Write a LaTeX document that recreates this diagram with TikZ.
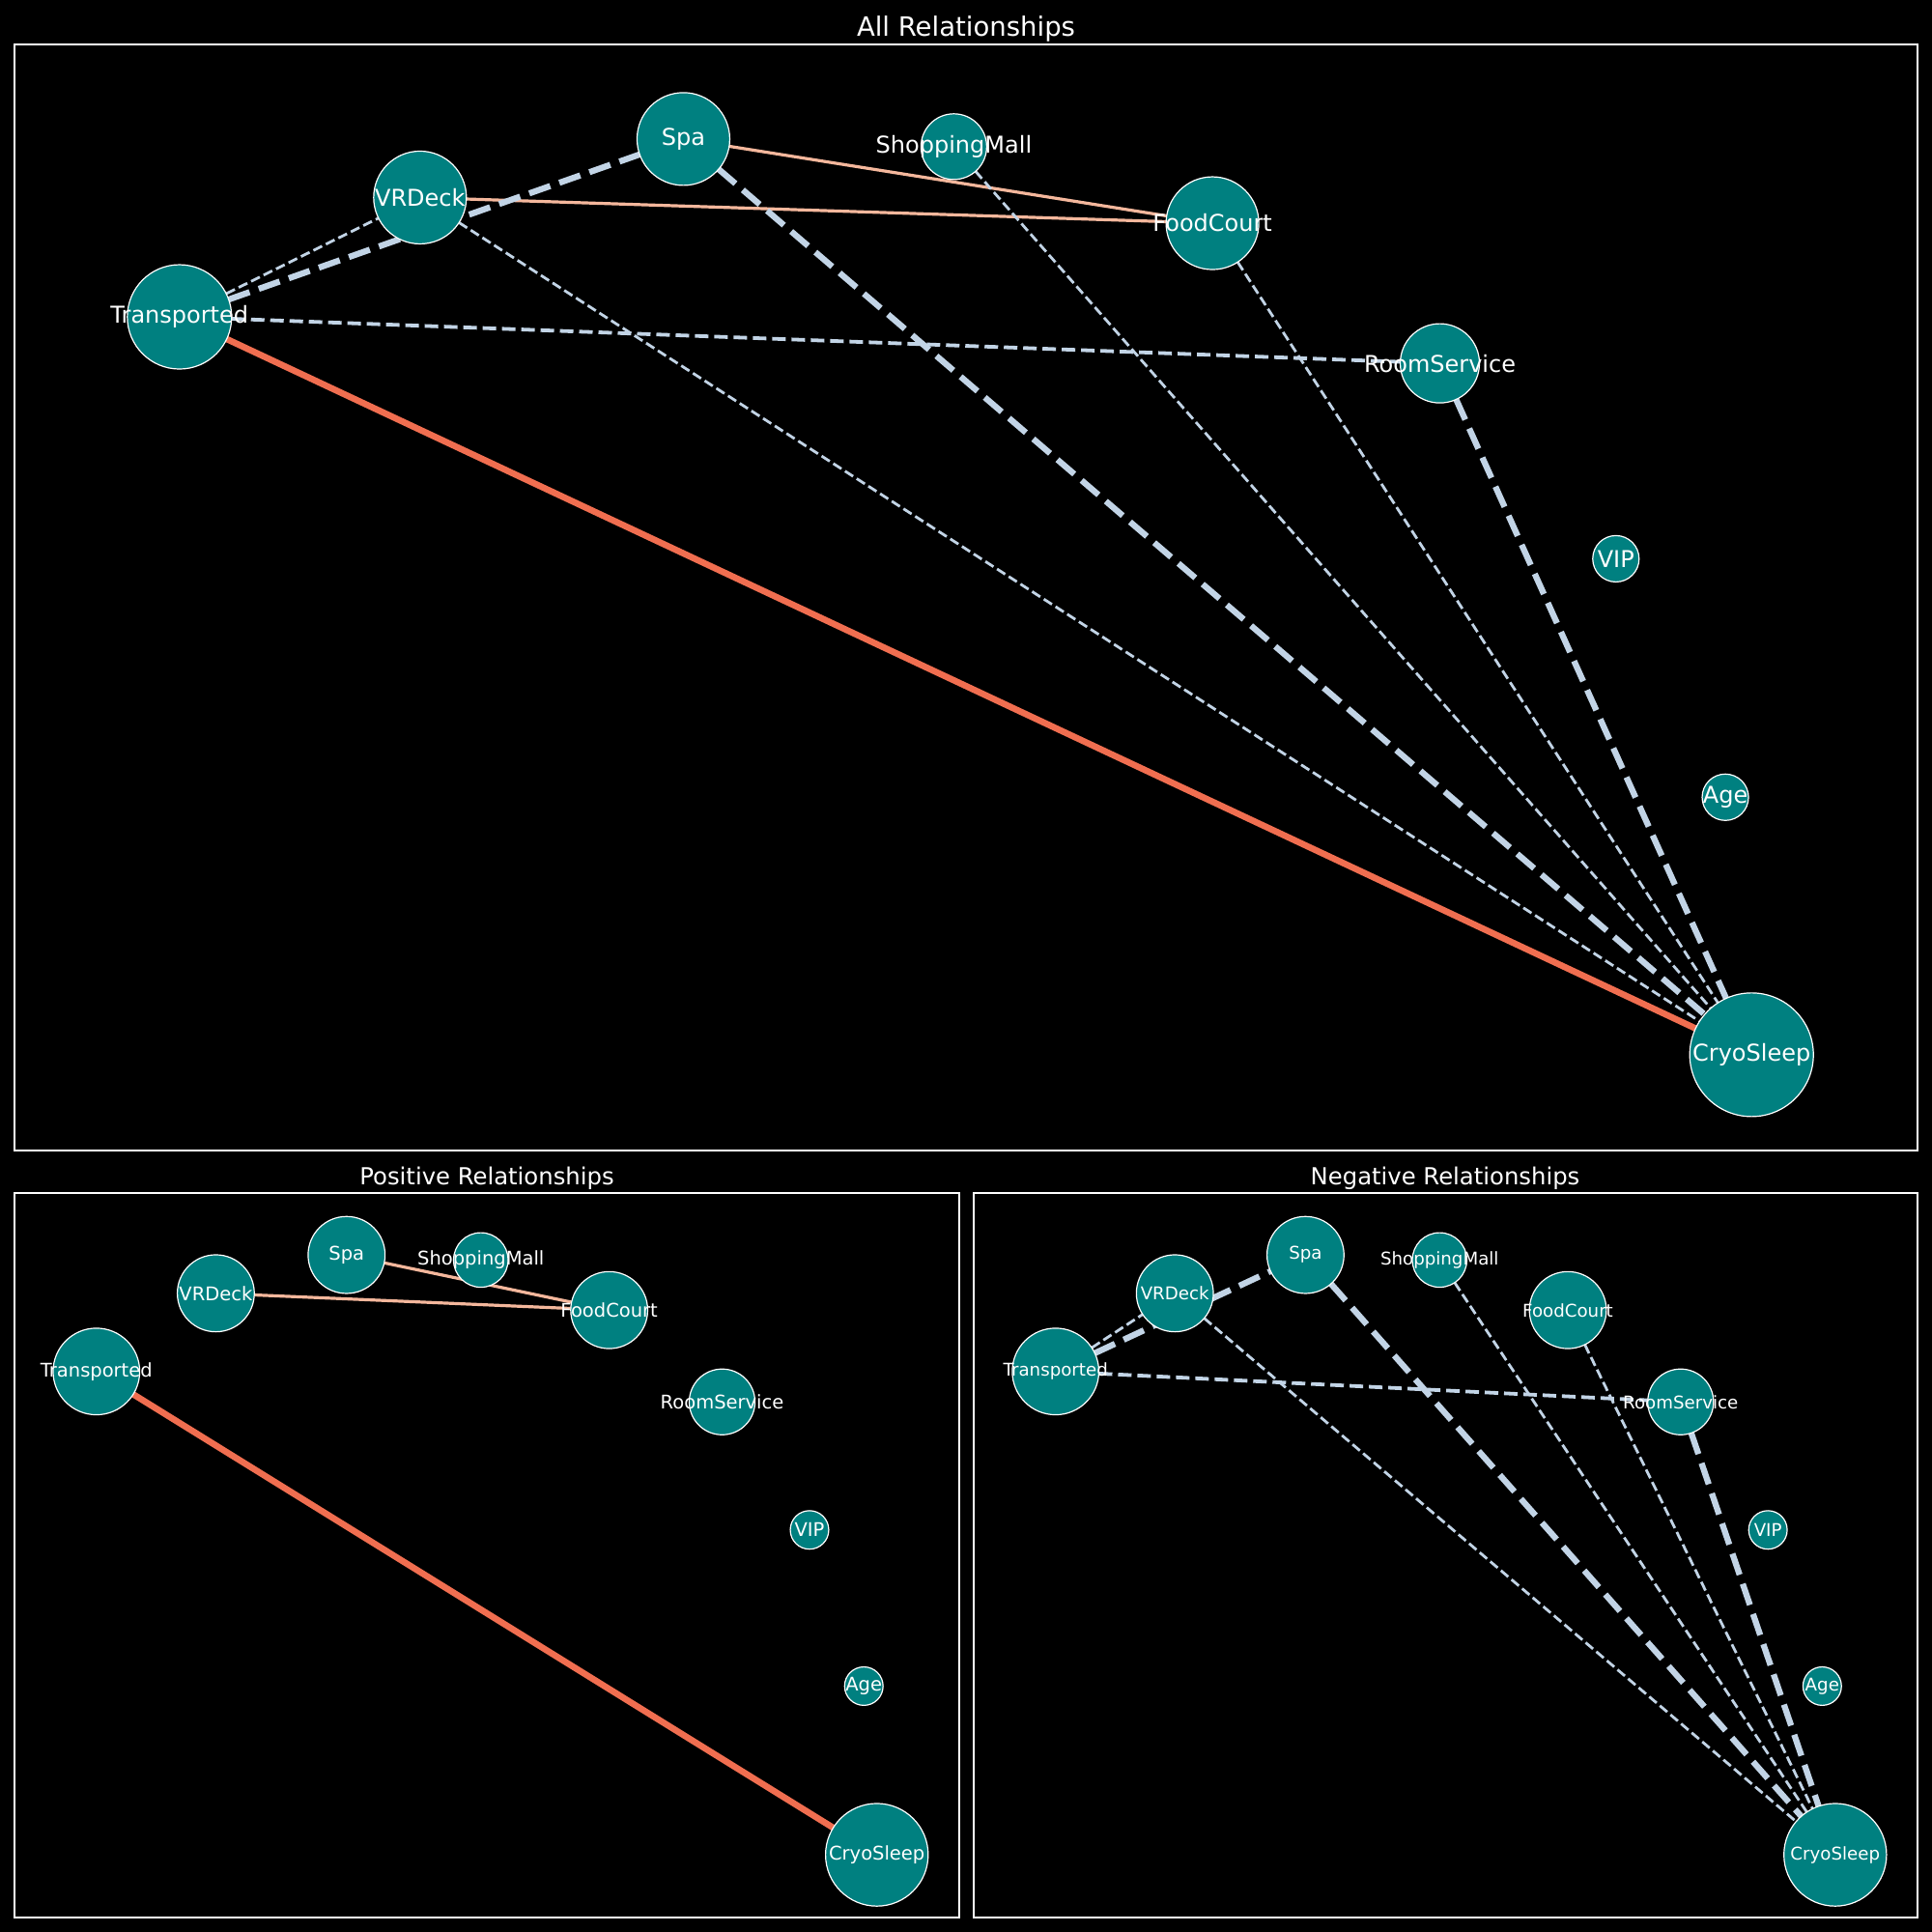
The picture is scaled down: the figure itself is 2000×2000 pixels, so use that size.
\documentclass[tikz,border=0pt]{standalone}
\usepackage{fontspec}
\setmainfont{DejaVu Sans}

\pgfdeclarelayer{canvas}
\pgfdeclarelayer{edges}
\pgfdeclarelayer{labels}
\pgfsetlayers{canvas,edges,main,labels}

\definecolor{nodeteal}{HTML}{008080}
\definecolor{poscoral}{HTML}{F06E50}
\definecolor{possalmon}{HTML}{F4B79C}
\definecolor{negblue}{HTML}{C2D4E6}

\tikzset{
  netnode/.style={circle, fill=nodeteal, draw=white, line width=1.2pt, inner sep=0pt, outer sep=0pt},
  netlabel/.style={text=white, inner sep=0pt},
  panelframe/.style={draw=white, line width=1.3pt},
  paneltitle/.style={text=white, anchor=base, inner sep=0pt},
  posstrong/.style={draw=poscoral, line width=6.6pt},
  posweak/.style={draw=possalmon, line width=3.2pt},
  negthick/.style={draw=negblue, line width=6.3pt, dash pattern=on 23pt off 10pt},
  negmid/.style={draw=negblue, line width=3.8pt, dash pattern=on 14pt off 6pt},
  negthin/.style={draw=negblue, line width=2.8pt, dash pattern=on 10pt off 4.4pt},
}

% #1 name prefix, #2/#3 panel origin, #4/#5 panel size, #6 radius scale, #7 label font
\newcommand\netnodes[7]{%
  \foreach \nm/\u/\v/\r in {Spa/0.3515/0.0855/48, ShoppingMall/0.4936/0.0924/34,
      VRDeck/0.2131/0.1384/48, FoodCourt/0.6295/0.1616/48,
      Transported/0.0867/0.2463/54, RoomService/0.749/0.2883/41,
      VIP/0.8415/0.465/24, Age/0.899/0.6806/24, CryoSleep/0.9128/0.9134/64}{
    \node[netnode, minimum size={2*\r*#6}] (#1\nm) at ({#2+\u*#4},{#3+\v*#5}) {};
    \begin{pgfonlayer}{labels}
      \node[netlabel, font=#7] (#1\nm-text) at (#1\nm.center) {\nm};
    \end{pgfonlayer}
  }%
}

\begin{document}
\begin{tikzpicture}[x=1pt, y=-1pt]
  \useasboundingbox (0,0) rectangle (2000,2000);
  \begin{pgfonlayer}{canvas}
    \fill[black] (0,0) rectangle (2000,2000);
  \end{pgfonlayer}

  % panel frames and titles
  \draw[panelframe] (15,46) rectangle (1985,1191);
  \draw[panelframe] (15,1235) rectangle (993,1985);
  \draw[panelframe] (1008,1235) rectangle (1985,1985);
  \node[paneltitle, font=\fontsize{27.5}{33}\selectfont] (titleall) at (1000,37) {All Relationships};
  \node[paneltitle, font=\fontsize{24.3}{29}\selectfont] (titlepos) at (504,1226) {Positive Relationships};
  \node[paneltitle, font=\fontsize{24.3}{29}\selectfont] (titleneg) at (1496,1226) {Negative Relationships};

  % nodes of the three panels
  \netnodes{a}{15}{46}{1970}{1145}{1}{\fontsize{24}{28}\selectfont}
  \netnodes{p}{15}{1235}{978}{750}{0.83}{\fontsize{19.5}{23}\selectfont}
  \netnodes{n}{1008}{1235}{977}{750}{0.83}{\fontsize{18.2}{22}\selectfont}

  \begin{pgfonlayer}{edges}
    % all relationships
    \draw[posstrong] (aTransported) -- (aCryoSleep);
    \draw[posweak] (aSpa) -- (aFoodCourt);
    \draw[posweak] (aVRDeck) -- (aFoodCourt);
    \draw[negthin] (aTransported) -- (aVRDeck);
    \draw[negthick] (aTransported) -- (aSpa);
    \draw[negmid] (aTransported) -- (aRoomService);
    \draw[negthin] (aVRDeck) -- (aCryoSleep);
    \draw[negthick] (aSpa) -- (aCryoSleep);
    \draw[negthin] (aShoppingMall) -- (aCryoSleep);
    \draw[negthin] (aFoodCourt) -- (aCryoSleep);
    \draw[negthick] (aRoomService) -- (aCryoSleep);
    % positive relationships
    \draw[posstrong] (pTransported) -- (pCryoSleep);
    \draw[posweak] (pSpa) -- (pFoodCourt);
    \draw[posweak] (pVRDeck) -- (pFoodCourt);
    % negative relationships
    \draw[negthin] (nTransported) -- (nVRDeck);
    \draw[negthick] (nTransported) -- (nSpa);
    \draw[negmid] (nTransported) -- (nRoomService);
    \draw[negthin] (nVRDeck) -- (nCryoSleep);
    \draw[negthick] (nSpa) -- (nCryoSleep);
    \draw[negthin] (nShoppingMall) -- (nCryoSleep);
    \draw[negthin] (nFoodCourt) -- (nCryoSleep);
    \draw[negthick] (nRoomService) -- (nCryoSleep);
  \end{pgfonlayer}
\end{tikzpicture}
\end{document}
